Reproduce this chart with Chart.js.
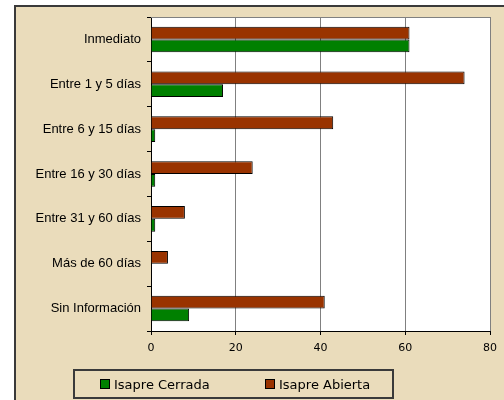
<!DOCTYPE html>
<html>
<head>
<meta charset="utf-8">
<script src="https://cdn.jsdelivr.net/npm/chart.js@4/dist/chart.umd.min.js"></script>
<style>
    html, body { margin: 0; padding: 0; background: #fff; }
    #wrap { position: relative; width: 504px; height: 400px; }
    #legendBox {
        position: absolute; left: 73px; top: 369px; width: 321px; height: 30px;
        box-sizing: border-box; border: 2px solid #3a3a3a;
        font-family: "DejaVu Sans", sans-serif; font-size: 13px; color: #000;
    }
    .item { position: absolute; top: 6px; line-height: 15px; white-space: nowrap; }
    .swatch {
        display: inline-block; width: 8px; height: 8px; border: 1px solid #000;
        margin-right: 4px; vertical-align: 0px;
    }
</style>
</head>
<body>
<div id="wrap">
    <canvas id="chart" width="504" height="400"></canvas>
    <div id="legendBox">
        <span class="item" style="left:25px"><span class="swatch" style="background:#008000"></span>Isapre Cerrada</span>
        <span class="item" style="left:190px"><span class="swatch" style="background:#993300"></span>Isapre Abierta</span>
    </div>
</div>
<script>
// categories and values
const categories = [
    'Inmediato',
    'Entre 1 y 5 días',
    'Entre 6 y 15 días',
    'Entre 16 y 30 días',
    'Entre 31 y 60 días',
    'Más de 60 días',
    'Sin Información',
];
const isapreAbierta = [61, 74, 43, 24, 8, 4, 41];
const isapreCerrada = [61, 17, 1, 1, 1, 0, 9];
const xTicks = [0, 20, 40, 60, 80];

const beige = '#eadcbb';

// parchment frame + white plot area
const framePlugin = {
    id: 'frame',
    beforeDraw(chart) {
        const { ctx, chartArea: a } = chart;
        ctx.save();
        ctx.fillStyle = '#fff';
        ctx.fillRect(0, 0, chart.width, chart.height);
        ctx.fillStyle = beige;
        ctx.fillRect(15, 6, chart.width, chart.height);
        ctx.strokeStyle = '#3a3a3a';
        ctx.lineWidth = 2;
        ctx.strokeRect(15, 6, chart.width + 10, chart.height + 10);
        ctx.fillStyle = '#fff';
        ctx.fillRect(a.left, a.top, a.right - a.left, a.bottom - a.top);
        ctx.restore();
    },
    beforeDatasetsDraw(chart) {
        const { ctx, chartArea: a } = chart;
        ctx.save();
        ctx.strokeStyle = '#808080';
        ctx.lineWidth = 1;
        ctx.beginPath();
        ctx.moveTo(a.left, a.top + 0.5);
        ctx.lineTo(a.right, a.top + 0.5);
        ctx.stroke();
        ctx.restore();
    },
};

new Chart(document.getElementById('chart'), {
    type: 'bar',
    data: {
        labels: categories,
        datasets: [
            {
                label: 'Isapre Abierta',
                data: isapreAbierta,
                backgroundColor: '#993300',
                borderColor: '#000',
                borderWidth: 1,
                borderSkipped: 'start',
            },
            {
                label: 'Isapre Cerrada',
                data: isapreCerrada,
                backgroundColor: '#008000',
                borderColor: '#000',
                borderWidth: 1,
                borderSkipped: 'start',
            },
        ],
    },
    options: {
        indexAxis: 'y',
        responsive: false,
        animation: false,
        categoryPercentage: 0.57,
        barPercentage: 1,
        layout: {
            padding: { left: 15, right: 12, top: 17, bottom: 47 },
        },
        plugins: {
            legend: { display: false },
            tooltip: { enabled: false },
        },
        scales: {
            x: {
                min: 0,
                max: 80,
                afterBuildTicks(scale) {
                    scale.ticks = xTicks.map(v => ({ value: v }));
                },
                afterFit(scale) {
                    scale.height = 22;
                },
                grid: {
                    color: '#808080',
                    tickColor: '#000',
                    tickLength: 4,
                },
                border: { color: '#000' },
                ticks: {
                    color: '#000',
                    padding: 7,
                    maxRotation: 0,
                    font: { family: 'DejaVu Sans', size: 11 },
                },
            },
            y: {
                afterFit(scale) {
                    scale.width = 136;
                },
                grid: {
                    drawOnChartArea: false,
                    tickColor: '#000',
                    tickLength: 4,
                    offset: true,
                },
                border: { color: '#000' },
                ticks: {
                    color: '#000',
                    padding: 6,
                    font: { family: 'Liberation Sans', size: 13 },
                },
            },
        },
    },
    plugins: [framePlugin],
});
</script>
</body>
</html>
